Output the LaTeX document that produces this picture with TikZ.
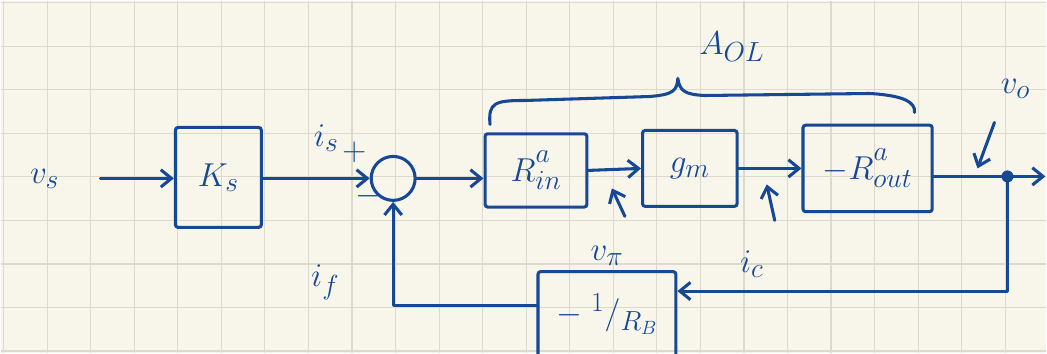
\documentclass[tikz,border=0pt]{standalone}
\usetikzlibrary{arrows.meta}
\definecolor{ink}{RGB}{22,72,150}
\definecolor{paper}{RGB}{248,246,234}
\definecolor{gridc}{RGB}{220,218,204}
\begin{document}
\begin{tikzpicture}[x=0.75pt,y=-0.75pt,
  wire/.style={draw=ink,line width=2.3pt,line cap=round,line join=round},
  conn/.style={wire,-{Straight Barb[length=8pt,width=13pt,line width=2.3pt]}},
  blk/.style={draw=ink,line width=2.3pt,rectangle,rounded corners=2pt,inner sep=0pt,text=ink,font=\fontsize{31}{33}\selectfont},
  lbl/.style={text=ink,inner sep=1pt,font=\fontsize{31}{33}\selectfont}]
\fill[paper] (0,0) rectangle (1047,353);
\foreach \i in {0,...,23} \draw[gridc,line width=0.9pt] ({3+43.6*\i},0) -- ({3+43.6*\i},353);
\foreach \j in {0,...,8} \draw[gridc,line width=0.9pt] (0,{2+43.6*\j}) -- (1047,{2+43.6*\j});
\useasboundingbox (0,0) rectangle (1047,353);

% blocks
\node[blk,minimum width=64.5pt,minimum height=75pt] (ks) at (218,177) {$K_s$};
\node[draw=ink,line width=2.3pt,circle,minimum size=33pt,inner sep=0pt] (sum) at (393,178) {};
\node[blk,minimum width=76.5pt,minimum height=55pt] (rin) at (536,170) {$R_{in}^{\raisebox{5pt}{$\scriptstyle a$}}$};
\node[blk,minimum width=71pt,minimum height=57pt] (gm) at (690,168) {$g_m$};
\node[blk,minimum width=97pt,minimum height=65pt] (rout) at (868,168) {$-R_{out}^{\raisebox{5pt}{$\scriptstyle a$}}$};
\node[blk,minimum width=103.5pt,minimum height=64pt] (rb) at (607,314) {$-\;{}^{1}/_{R_B}$};

% labels
\node[lbl] (vs) at (44,178) {$v_s$};
\node[lbl] (is) at (326,138) {$i_s$};
\node[lbl] (plus) at (354,152) {$+$};
\node[lbl] (minus) at (368,196) {$-$};
\node[lbl] (if) at (325,282) {$i_f$};
\node[lbl] (vpi) at (607,256) {$v_\pi$};
\node[lbl] (ic) at (752,264) {$i_c$};
\node[lbl] (vo) at (1016,88) {$v_o$};
\node[lbl] (aol) at (732,46) {$A_{OL}$};

% coordinates
\coordinate (vsend) at (100,178);
\coordinate (dot) at (1008,176);
\coordinate (oend) at (1046,176);
\coordinate (vpia) at (625,216);
\coordinate (vpib) at (612,188);
\coordinate (ica) at (775,220);
\coordinate (icb) at (767,184);
\coordinate (voa) at (995,122);
\coordinate (vob) at (978,168);

% forward path
\draw[conn] (vsend) -- (ks.west |- vsend);
\draw[conn] (ks.east |- sum) -- (sum.west);
\draw[conn] (sum.east) -- (rin.west |- sum.east);
\draw[conn] (rin.east) -- (gm.west);
\draw[conn] (gm.east) -- (rout.west);
\draw[wire] (rout.east |- dot) -- (dot);
\draw[conn] (dot) -- (oend);
\fill[ink] (dot) circle (4.5pt);

% feedback
\draw[conn] (dot) |- ([yshift=-15.75pt]rb.north east);
\draw[conn] ([yshift=-26.25pt]rb.north west) -| (sum.south);

% small pointers
\draw[conn] (vpia) -- (vpib);
\draw[conn] (ica) -- (icb);
\draw[conn] (voa) -- (vob);

% brace
\draw[wire] (490,124) .. controls (488,102) and (495,100) .. (525,100)
  -- (650,96) .. controls (674,94) and (677,90) .. (678,78)
  .. controls (680,90) and (684,94) .. (705,95)
  -- (870,93) .. controls (905,95) and (916,102) .. (915,112);
\end{tikzpicture}
\end{document}
